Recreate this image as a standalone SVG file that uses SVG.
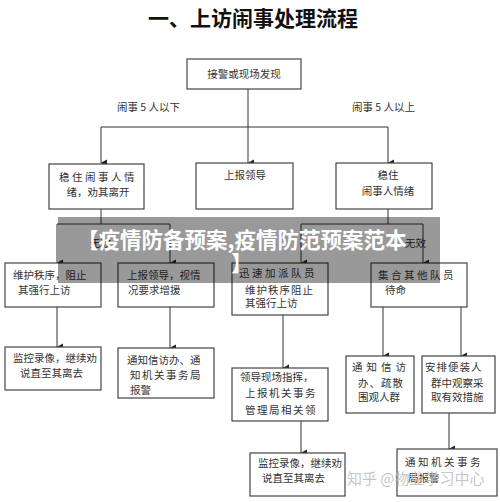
<svg xmlns="http://www.w3.org/2000/svg" width="500" height="502" viewBox="0 0 500 502">
<defs>
<marker id="ah" markerWidth="8" markerHeight="8" refX="4" refY="7" orient="auto" markerUnits="userSpaceOnUse" viewBox="0 0 8 8">
<path d="M0.5,1 L7.5,1 L4,7.5 Z" fill="#222"/>
</marker>
<style>
.box{fill:#fff;stroke:#444;stroke-width:1.2}
.t{font-family:"Noto Sans CJK SC","Noto Sans",sans-serif;font-size:10.5px;fill:#333}
.s{letter-spacing:2.5px}
.ln{fill:none;stroke:#333;stroke-width:1}
.ar{fill:none;stroke:#333;stroke-width:1;marker-end:url(#ah)}
</style>
</defs>
<rect width="500" height="502" fill="#fff"/>
<text x="253" y="26" text-anchor="middle" font-family="'Noto Sans CJK SC','Noto Sans',sans-serif" font-size="21" font-weight="bold" fill="#111">一、上访闹事处理流程</text>

<g id="connectors">
<line class="ln" x1="248" y1="89" x2="248" y2="127"/>
<line class="ln" x1="101" y1="127" x2="388" y2="127"/>
<line class="ar" x1="101" y1="127" x2="101" y2="163"/>
<line class="ar" x1="248" y1="127" x2="248" y2="163"/>
<line class="ar" x1="388" y1="127" x2="388" y2="163"/>
<line class="ln" x1="101" y1="209" x2="101" y2="224"/>
<line class="ln" x1="57" y1="224" x2="170" y2="224"/>
<line class="ar" x1="57" y1="224" x2="57" y2="263"/>
<line class="ar" x1="170" y1="224" x2="170" y2="263"/>
<line class="ln" x1="388" y1="209" x2="388" y2="224"/>
<line class="ln" x1="301" y1="224" x2="423" y2="224"/>
<line class="ar" x1="301" y1="224" x2="301" y2="263"/>
<line class="ar" x1="423" y1="224" x2="423" y2="263"/>
<line class="ar" x1="57" y1="307" x2="57" y2="347"/>
<line class="ar" x1="170" y1="307" x2="170" y2="348"/>
<line class="ar" x1="283" y1="315" x2="283" y2="368"/>
<line class="ar" x1="383" y1="307" x2="383" y2="356"/>
<line class="ar" x1="461" y1="307" x2="461" y2="356"/>
<line class="ar" x1="301" y1="421" x2="301" y2="453"/>
<line class="ar" x1="449" y1="413" x2="449" y2="449"/>
<text class="t" x="117" y="111" font-size="9.5">闹事 5 人以下</text>
<text class="t" x="352" y="111" font-size="9.5">闹事 5 人以上</text>
<text class="t" x="90" y="247">无效</text>
<text class="t" x="405" y="247">无效</text>
</g>

<g id="n1"><rect class="box" x="187" y="59" width="114" height="30"/><text class="t" x="244" y="78" text-anchor="middle">接警或现场发现</text></g>
<g id="n2"><rect class="box" x="49" y="164" width="95" height="45"/><text class="t s" x="98" y="181" text-anchor="middle">稳住闹事人情</text><text class="t" x="98" y="196" text-anchor="middle">绪，劝其离开</text></g>
<g id="n3"><rect class="box" x="196" y="163" width="97" height="46"/><text class="t" x="245" y="179" text-anchor="middle">上报领导</text></g>
<g id="n4"><rect class="box" x="336" y="163" width="96" height="46"/><text class="t" x="388" y="179" text-anchor="middle">稳住</text><text class="t" x="388" y="195" text-anchor="middle">闹事人情绪</text></g>

<g id="n5"><rect class="box" x="5" y="263" width="96" height="44"/><text class="t" x="13" y="279">维护秩序，阻止</text><text class="t" x="18" y="294">其强行上访</text></g>
<g id="n6"><rect class="box" x="118" y="263" width="96" height="44"/><text class="t" x="127" y="279">上报领导，视情</text><text class="t" x="128" y="294">况要求增援</text></g>
<g id="n7"><rect class="box" x="232" y="263" width="96" height="52"/><text class="t s" x="239" y="277">迅速加派队员</text><text class="t" x="245" y="294" letter-spacing="1">维护秩序阻止</text><text class="t" x="245" y="307">其强行上访</text></g>
<g id="n8"><rect class="box" x="371" y="263" width="96" height="44"/><text class="t s" x="378" y="279">集合其他队员</text><text class="t" x="385" y="294">待命</text></g>

<g id="n9"><rect class="box" x="5" y="347" width="96" height="43"/><text class="t" x="13" y="362">监控录像，继续劝</text><text class="t" x="20" y="377">说直至其离去</text></g>
<g id="n10"><rect class="box" x="118" y="348" width="96" height="50"/><text class="t" x="127" y="364">通知信访办、通</text><text class="t" x="130" y="379" letter-spacing="1.5">知机关事务局</text><text class="t" x="130" y="394">报警</text></g>
<g id="n11"><rect class="box" x="232" y="368" width="96" height="53"/><text class="t" x="240" y="381">领导现场指挥，</text><text class="t" x="245" y="397" letter-spacing="1.5">上报机关事务</text><text class="t" x="245" y="414" letter-spacing="1.5">管理局相关领</text></g>
<g id="n12"><rect class="box" x="346" y="356" width="68" height="57"/><text class="t" x="352" y="371" letter-spacing="4">通知信访</text><text class="t" x="358" y="387" letter-spacing="1">办、疏散</text><text class="t" x="358" y="401">围观人群</text></g>
<g id="n13"><rect class="box" x="422" y="356" width="73" height="57"/><text class="t" x="425" y="371" letter-spacing="1">安排便装人</text><text class="t" x="431" y="387">群中观察采</text><text class="t" x="431" y="401">取有效措施</text></g>
<g id="n14"><rect class="box" x="250" y="453" width="95" height="43"/><text class="t" x="258" y="467">监控录像，继续劝</text><text class="t" x="262" y="482">说直至其离去</text></g>
<g id="n15"><rect class="box" x="397" y="449" width="100" height="47"/><text class="t s" x="405" y="466">通知机关事务</text><text class="t" x="408" y="482">局报警</text></g>

<text x="347" y="484" font-family="'Noto Sans CJK SC','Noto Sans',sans-serif" font-size="15" fill="#bbb" fill-opacity="0.85">知乎 @物业学习中心</text>

<rect x="58" y="217" width="382" height="66" fill="#000" fill-opacity="0.4"/>
<text x="77" y="248" font-family="'Noto Sans CJK SC','Noto Sans',sans-serif" font-size="21.5" font-weight="bold" fill="#fff">【疫情防备预案,疫情防范预案范本</text>
<text x="231" y="271" font-family="'Noto Sans CJK SC','Noto Sans',sans-serif" font-size="21.5" font-weight="bold" fill="#fff">】</text>
</svg>
